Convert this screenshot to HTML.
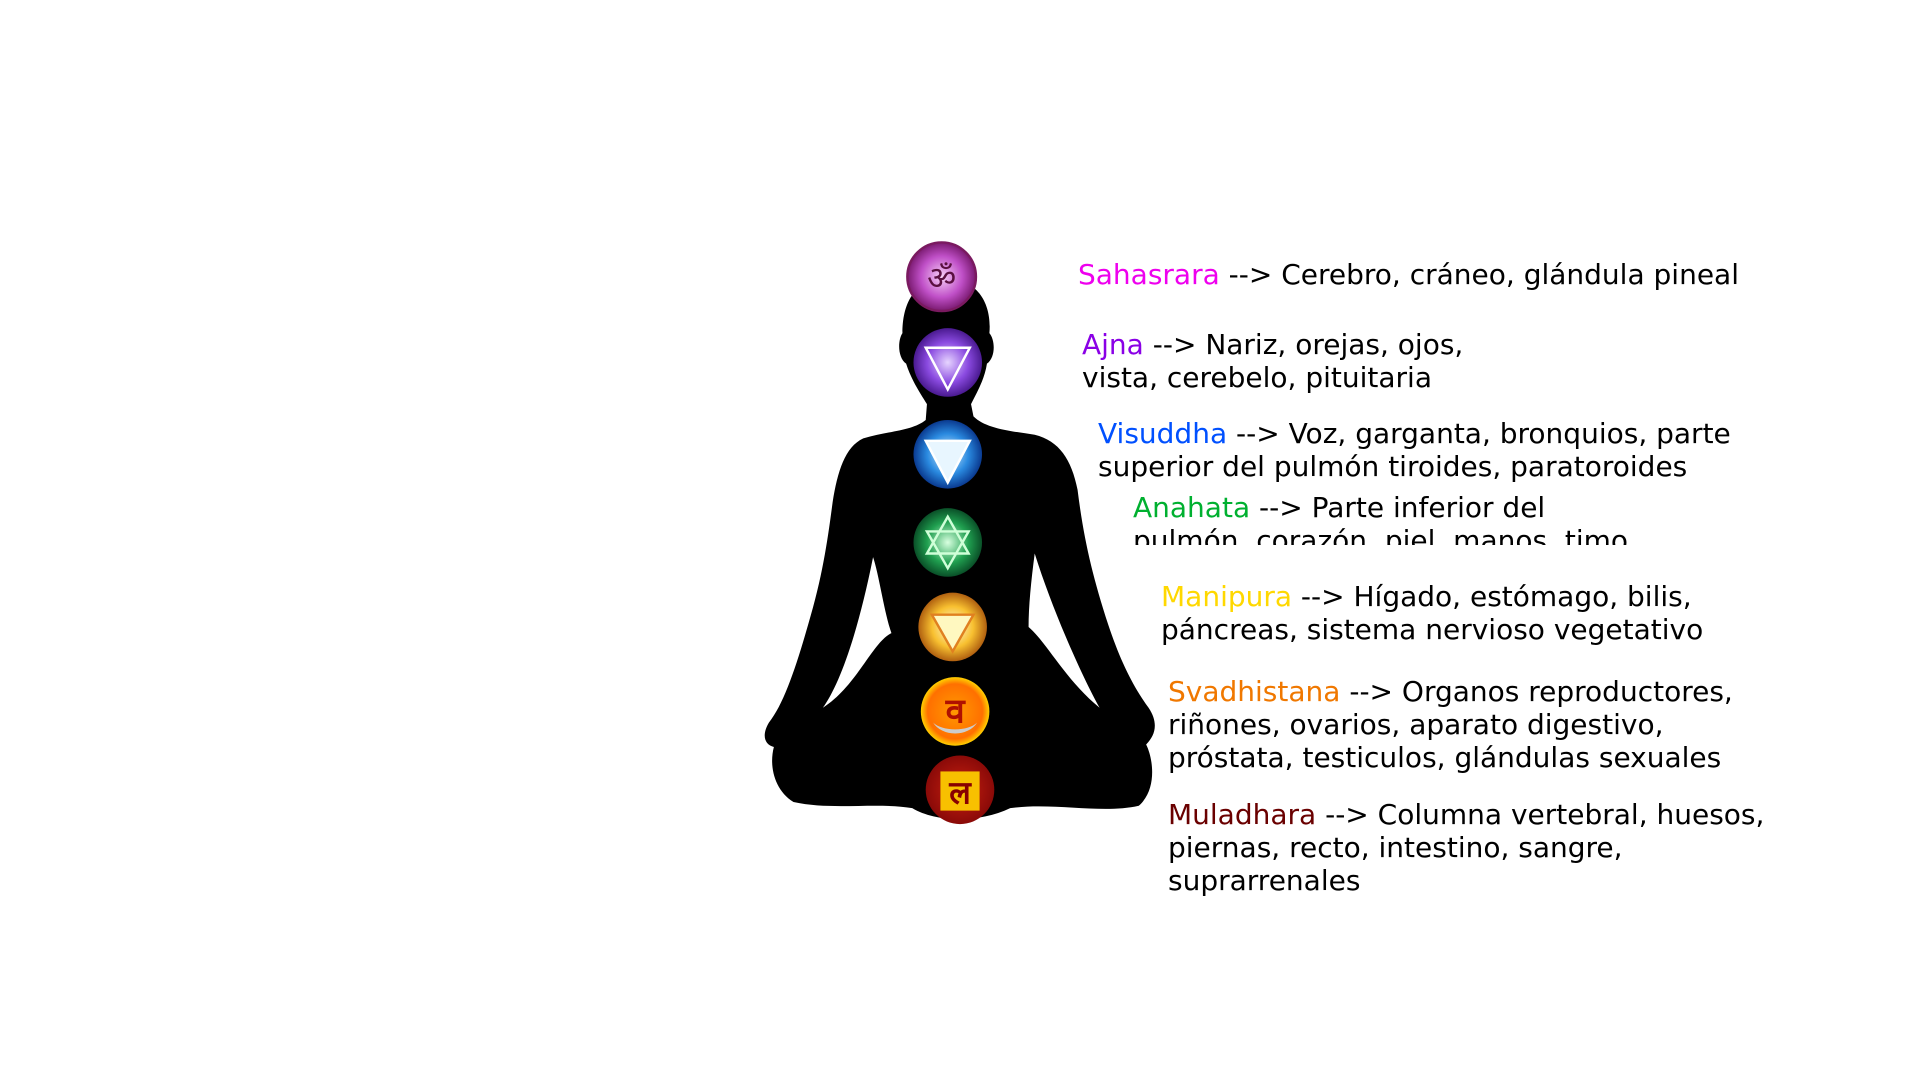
<!DOCTYPE html>
<html><head><meta charset="utf-8">
<style>
html,body{margin:0;padding:0;background:#fff;}
#stage{position:relative;width:1920px;height:1080px;overflow:hidden;background:#fff;font-family:"DejaVu Sans","Liberation Sans",sans-serif;}
.lbl{position:absolute;font-size:28px;line-height:33px;color:#000;white-space:nowrap;}
</style></head>
<body>
<div id="stage">
<svg width="1920" height="1080" style="position:absolute;left:0;top:0">
<defs>
<radialGradient id="g1"><stop offset="0" stop-color="#f7d0f7"/><stop offset="0.6" stop-color="#c050c8"/><stop offset="1" stop-color="#7a1a70"/></radialGradient>
<radialGradient id="g2"><stop offset="0" stop-color="#e6d4ff"/><stop offset="0.6" stop-color="#8a4ae0"/><stop offset="1" stop-color="#4a1a90"/></radialGradient>
<radialGradient id="g3"><stop offset="0" stop-color="#d8f0ff"/><stop offset="0.6" stop-color="#2a8ae0"/><stop offset="1" stop-color="#0a3a90"/></radialGradient>
<radialGradient id="g4"><stop offset="0" stop-color="#d8ffe0"/><stop offset="0.6" stop-color="#20a050"/><stop offset="1" stop-color="#0a5028"/></radialGradient>
<radialGradient id="g5"><stop offset="0" stop-color="#fffce0"/><stop offset="0.6" stop-color="#f8c030"/><stop offset="1" stop-color="#b06010"/></radialGradient>
<radialGradient id="g6"><stop offset="0" stop-color="#ff9a00"/><stop offset="0.8" stop-color="#ff7000"/><stop offset="1" stop-color="#ffd000"/></radialGradient>
<radialGradient id="g7"><stop offset="0" stop-color="#c82010"/><stop offset="1" stop-color="#8a0a08"/></radialGradient>
</defs>
<g transform="scale(1.2245)">
<path fill="#000" d="M773,228 C745,228 737,250 737,272 C733,278 733,292 740,297 C744,310 752,322 757,330 L756,343 C745,352 725,352 705,358 C690,365 684,385 680,410 C676,440 672,470 660,510 C650,545 640,575 628,590 C622,600 624,608 632,610 C628,625 632,645 648,655 C680,662 715,655 745,660 C765,672 800,672 825,660 C860,655 900,665 930,658 C945,645 942,620 936,608 C944,600 946,590 938,578 C925,560 915,540 905,510 C892,470 885,440 880,400 C875,375 865,360 845,355 C825,352 805,350 795,340 L793,330 C798,320 804,310 806,297 C813,292 813,278 808,272 C810,250 800,228 773,228 Z"/>
<path fill="#fff" d="M713,455 C718,470 722,500 728,517 C712,525 700,560 672,578 C685,560 700,520 713,455 Z"/>
<path fill="#fff" d="M845,452 C842,475 840,495 840,512 C855,525 870,555 898,578 C885,555 860,500 845,452 Z"/>
<g><circle cx="769" cy="226" r="28" fill="url(#g1)" stroke="#7a1a60" stroke-width="2"/><text x="769" y="236" text-anchor="middle" font-size="26" fill="#5a1040" font-family="DejaVu Sans">ॐ</text></g>
<g><circle cx="774" cy="296" r="28" fill="url(#g2)"/><path d="M756,284 L792,284 L774,318 Z" fill="none" stroke="#fff" stroke-width="2"/></g>
<g><circle cx="774" cy="371" r="28" fill="url(#g3)"/><path d="M756,360 L792,360 L774,394 Z" fill="#e8f6ff" stroke="#fff" stroke-width="2"/></g>
<g><circle cx="774" cy="443" r="28" fill="url(#g4)"/><path d="M757,452 L791,452 L774,422 Z M757,434 L791,434 L774,464 Z" fill="none" stroke="#cfffd8" stroke-width="2"/></g>
<g><circle cx="778" cy="512" r="28" fill="url(#g5)"/><path d="M761,502 L795,502 L778,532 Z" fill="#fff8c0" stroke="#e08020" stroke-width="2"/></g>
<g><circle cx="780" cy="581" r="28" fill="url(#g6)"/><path d="M762,590 A20,16 0 0 0 798,590 A20,10 0 0 1 762,590 Z" fill="#ccc"/><text x="780" y="590" text-anchor="middle" font-size="28" font-weight="bold" fill="#b01000">व</text></g>
<g><circle cx="784" cy="645" r="28" fill="url(#g7)"/><rect x="768" y="630" width="32" height="32" fill="#f8c000"/><text x="784" y="656" text-anchor="middle" font-size="26" font-weight="bold" fill="#800">ल</text></g>
</g>
</svg>
<div class="lbl" style="left:1078px;top:258px"><span style="color:#ee00ee">Sahasrara</span> --&gt; Cerebro, cráneo, glándula pineal</div>
<div class="lbl" style="left:1082px;top:328px"><span style="color:#8a00e6">Ajna</span> --&gt; Nariz, orejas, ojos,<br>vista, cerebelo, pituitaria</div>
<div class="lbl" style="left:1098px;top:417px"><span style="color:#0050ff">Visuddha</span> --&gt; Voz, garganta, bronquios, parte<br>superior del pulmón tiroides, paratoroides</div>
<div class="lbl" style="left:1133px;top:491px;height:54px;overflow:hidden"><span style="color:#00b030">Anahata</span> --&gt; Parte inferior del<br>pulmón, corazón, piel, manos, timo</div>
<div class="lbl" style="left:1161px;top:580px"><span style="color:#ffd800">Manipura</span> --&gt; Hígado, estómago, bilis,<br>páncreas, sistema nervioso vegetativo</div>
<div class="lbl" style="left:1168px;top:675px"><span style="color:#f07800">Svadhistana</span> --&gt; Organos reproductores,<br>riñones, ovarios, aparato digestivo,<br>próstata, testiculos, glándulas sexuales</div>
<div class="lbl" style="left:1168px;top:798px"><span style="color:#6a0000">Muladhara</span> --&gt; Columna vertebral, huesos,<br>piernas, recto, intestino, sangre,<br>suprarrenales</div>
</div>
</body></html>
